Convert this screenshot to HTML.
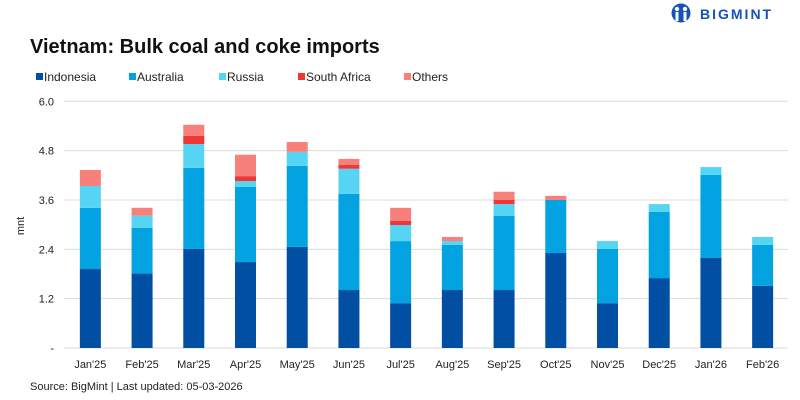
<!DOCTYPE html>
<html><head><meta charset="utf-8"><style>
body{margin:0;background:#fff;font-family:"Liberation Sans",sans-serif;}
#wrap{position:relative;width:800px;height:400px;overflow:hidden;}
</style></head><body>
<div id="wrap">
<svg id="chart" width="800" height="400" xmlns="http://www.w3.org/2000/svg">
  <g>
    <circle cx="681" cy="13" r="9.5" fill="#1452b8"/>
    <circle cx="677" cy="9" r="2.2" fill="#fff"/><circle cx="685" cy="9" r="2.2" fill="#fff"/>
    <rect x="675.5" y="12" width="3" height="9" fill="#fff"/><rect x="683.5" y="12" width="3" height="9" fill="#fff"/>
    <text x="700" y="19" font-size="14" font-weight="bold" fill="#1452b8" letter-spacing="2">BIGMINT</text>
  </g>
  <text x="30" y="53" font-size="20" font-weight="bold" fill="#111">Vietnam: Bulk coal and coke imports</text>
  <g id="legend"></g>
  <g id="grid"></g>
  <g id="bars"></g>
  <g id="xlabels"></g>
  <text transform="translate(24,226) rotate(-90)" font-size="11" fill="#222" text-anchor="middle">mnt</text>
  <text x="30" y="390" font-size="11" fill="#222">Source: BigMint | Last updated: 05-03-2026</text>
</svg>
</div>
<script>
const categories=["Jan'25","Feb'25","Mar'25","Apr'25","May'25","Jun'25","Jul'25","Aug'25","Sep'25","Oct'25","Nov'25","Dec'25","Jan'26","Feb'26"];
const indonesia=[1.92,1.81,2.41,2.09,2.46,1.41,1.09,1.41,1.41,2.31,1.09,1.70,2.19,1.51];
const australia=[1.49,1.11,1.97,1.83,1.97,2.34,1.51,1.10,1.80,1.29,1.32,1.61,2.02,1.00];
const russia=[0.53,0.30,0.58,0.14,0.34,0.61,0.39,0.09,0.29,0,0.19,0.19,0.19,0.19];
const southAfrica=[0,0,0.20,0.12,0,0.09,0.10,0,0.10,0,0,0,0,0];
const others=[0.39,0.19,0.27,0.52,0.24,0.15,0.32,0.10,0.20,0.10,0,0,0,0];
const yTicks=[0,1.2,2.4,3.6,4.8,6.0];
const yTickLabels=["-","1.2","2.4","3.6","4.8","6.0"];
const seriesNames=["Indonesia","Australia","Russia","South Africa","Others"];
const seriesData=[indonesia,australia,russia,southAfrica,others];
const colors=["#004fa3","#03a3e1","#55d4f4","#ef3735","#f7817a"];
const NS="http://www.w3.org/2000/svg";
const x0=64,x1=788,y0=348,yTop=101.3,yMax=6.0;
const yS=v=>y0-(v/yMax)*(y0-yTop);
const step=(x1-x0)/categories.length;
const xC=i=>x0+step*(i+0.5)+0.5;
const bw=21;
function mk(t,a,p){const e=document.createElementNS(NS,t);for(const k in a)e.setAttribute(k,a[k]);p.appendChild(e);return e;}
const grid=document.getElementById('grid');
yTicks.forEach((t,i)=>{
  const l=mk('line',{x1:x0,x2:x1,y1:yS(t),y2:yS(t),stroke:'#d9d9d9','stroke-width':1},grid);
  
  
  const tx=mk('text',{x:54,y:yS(t)+4,'font-size':11,fill:'#222','text-anchor':'end'},grid);
  tx.textContent=yTickLabels[i];
  
  
});
const bars=document.getElementById('bars');
categories.forEach((c,i)=>{
  let acc=0;
  seriesData.forEach((s,j)=>{
    const v=s[i];if(v<=0)return;
    const r=mk('rect',{x:xC(i)-bw/2,y:yS(acc+v),width:bw,height:yS(acc)-yS(acc+v),fill:colors[j]},bars);
    
    
    acc+=v;
  });
  const t=mk('text',{x:xC(i),y:368,'font-size':11,fill:'#222','text-anchor':'middle'},document.getElementById('xlabels'));
  t.textContent=c;
  
  
});
const lg=document.getElementById('legend');
const lx=[36,129,219,298,404];
seriesNames.forEach((n,j)=>{
  const r=mk('rect',{x:lx[j],y:73,width:7,height:7,fill:colors[j]},lg);
  
  
  const t=mk('text',{x:lx[j]+8,y:81,'font-size':12,fill:'#222'},lg);
  t.textContent=n;
  
  
});
</script>
</body></html>
